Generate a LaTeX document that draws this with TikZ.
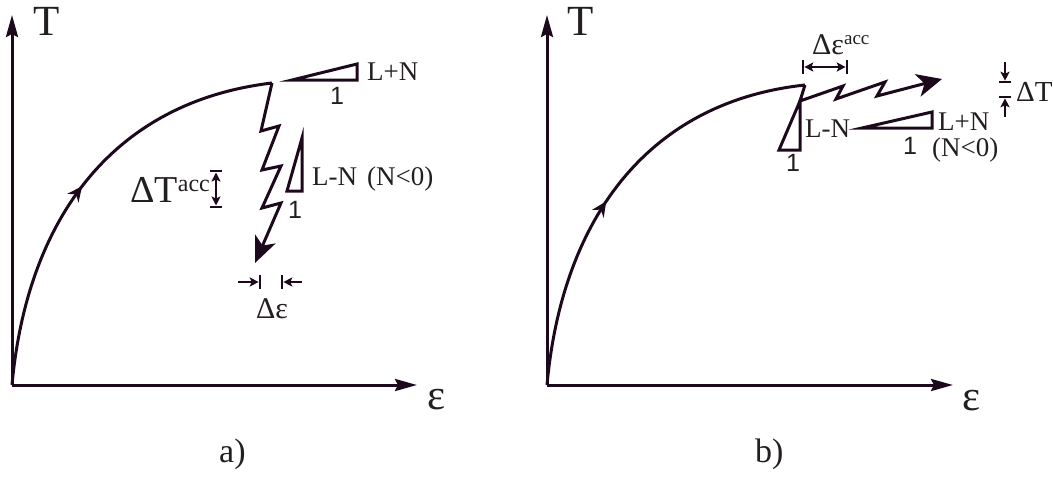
\documentclass[tikz,border=0pt]{standalone}
\usepackage{fontspec}
\setmainfont{Liberation Serif}
\newfontfamily\sansone{Liberation Sans}
\usetikzlibrary{arrows.meta,decorations.markings,calc}
\definecolor{ink}{RGB}{28,10,28}
\definecolor{txt}{RGB}{35,31,32}
\begin{document}
\begin{tikzpicture}[x=1pt,y=-1pt,
  axis/.style={draw=ink,line width=3pt,-{Stealth[length=22pt,width=12pt,inset=3pt]}},
  curve/.style={draw=ink,line width=3pt,postaction=decorate,
    decoration={markings,mark=at position #1 with {\arrow[ink]{Stealth[length=15pt,width=14pt,inset=5pt]}}}},
  zig/.style={draw=ink,line width=3pt,line join=miter,-{Stealth[length=26pt,width=22pt,inset=7pt]}},
  tri/.style={draw=ink,line width=3pt,line join=miter},
  dim/.style={draw=ink,line width=2.5pt},
  dimarrow/.style={draw=ink,line width=2.5pt,-{Stealth[length=9pt,width=9pt,inset=2pt]}},
  dimboth/.style={draw=ink,line width=2.5pt,{Stealth[length=9pt,width=9pt,inset=2pt]}-{Stealth[length=9pt,width=9pt,inset=2pt]}},
  lab/.style={text=txt,inner sep=0pt,anchor=base west},
  labc/.style={text=txt,inner sep=0pt,anchor=base},
  axfont/.style={font=\fontsize{43}{48}\selectfont},
  capfont/.style={font=\fontsize{34}{38}\selectfont},
  midfont/.style={font=\fontsize{27}{30}\selectfont},
  onefont/.style={font=\sansone\fontsize{25}{27}\selectfont}]
\useasboundingbox (0,0) rectangle (1053,477);

% ---------------- panel a ----------------
\coordinate (Oa) at (12,385);
\coordinate (Ya) at (12,15);
\coordinate (Xa) at (417,385);
\draw[axis] (Oa) -- (Ya);
\draw[axis] (Oa) -- (Xa);
\node[lab,axfont] (Ta) at (33,35) {T};
\node[lab,axfont] (Ea) at (427,409) {ε};
\node[lab,capfont] (capa) at (219,462) {a)};

\coordinate (Pa) at (272,83);
\draw[curve=0.49] (Oa) .. controls ($(Oa)+(15,-165)$) and ($(Oa)+(100,-283)$) .. (Pa);
\coordinate (TipA) at (255,263);
\draw[zig] (Pa) -- (261,131) -- (279,126) -- (262,170) -- (281,166) -- (262,208) -- (281,203) -- (TipA);

\draw[tri] (292,80) -- (357,80) -- (357,64) -- cycle;
\node[labc,onefont] (one1) at (337,104) {1};
\node[lab,midfont] (LNa) at (367,80) {L+N};

\draw[tri] (302,138) -- (302,191) -- (287,191) -- cycle;
\node[labc,onefont] (one2) at (295,218) {1};
\node[lab,midfont] (LMa) at (312,185) {L-N\hspace{10pt}(N<0)};

% Delta T acc
\node[lab,font=\fontsize{38}{42}\selectfont] (DTa) at (130,202) {ΔT\raisebox{11pt}{\fontsize{24}{26}\selectfont acc}};
\coordinate (ta1) at (216,172.5);
\coordinate (ta2) at (216,205.5);
\draw[dim] (210,171) -- (222,171);
\draw[dim] (210,207) -- (222,207);
\draw[dimboth] (ta1) -- (ta2);

% Delta eps
\coordinate (ea1) at (258.7,282);
\coordinate (ea2) at (283.3,282);
\draw[dim] (260,275) -- (260,289);
\draw[dim] (282,275) -- (282,289);
\draw[dimarrow] (238,282) -- (ea1);
\draw[dimarrow] (302,282) -- (ea2);
\node[lab,font=\fontsize{30}{32}\selectfont] (DEa) at (256,318) {Δε};

% ---------------- panel b ----------------
\coordinate (Ob) at (547,385);
\coordinate (Yb) at (547,15);
\coordinate (Xb) at (953,385);
\draw[axis] (Ob) -- (Yb);
\draw[axis] (Ob) -- (Xb);
\node[lab,axfont] (Tb) at (567,35) {T};
\node[lab,axfont] (Eb) at (962,410) {ε};
\node[lab,capfont] (capb) at (755,462) {b)};

\coordinate (Pb) at (805,85);
\draw[curve=0.45] (Ob) .. controls ($(Ob)+(15,-165)$) and ($(Ob)+(100,-283)$) .. (Pb);
\coordinate (TipB) at (942,79);
\draw[zig,-{Stealth[length=25pt,width=23pt,inset=7pt]}] (Pb) -- (800,101) -- (843,86) -- (836,99) -- (885,82) -- (877,96) -- (TipB);

\draw[tri] (800,101) -- (800,150) -- (779,150) -- cycle;
\node[labc,onefont] (one3) at (793,171) {1};
\node[lab,midfont] (LMb) at (805,137) {L-N};

\draw[tri] (862,128) -- (932,128) -- (932,112) -- cycle;
\node[labc,onefont] (one4) at (910,154) {1};
\node[lab,midfont] (LNb) at (938,130) {L+N};
\node[lab,midfont] (Nb) at (932,156) {(N<0)};

% Delta eps acc
\coordinate (eb1) at (804.3,67);
\coordinate (eb2) at (845.7,67);
\draw[dim] (803,60) -- (803,74);
\draw[dim] (847,60) -- (847,74);
\draw[dimboth] (eb1) -- (eb2);
\node[lab,font=\fontsize{30}{32}\selectfont] (DEb) at (812,54) {Δε\raisebox{10pt}{\fontsize{19}{21}\selectfont acc}};

% Delta T
\coordinate (tb1) at (1005,80.7);
\coordinate (tb2) at (1005,98.3);
\draw[dim] (999,82) -- (1011,82);
\draw[dim] (999,97) -- (1011,97);
\draw[dimarrow] (1005,62) -- (tb1);
\draw[dimarrow] (1005,117) -- (tb2);
\node[lab,font=\fontsize{29}{31}\selectfont] (DTb) at (1016,101) {ΔT};
\end{tikzpicture}
\end{document}
